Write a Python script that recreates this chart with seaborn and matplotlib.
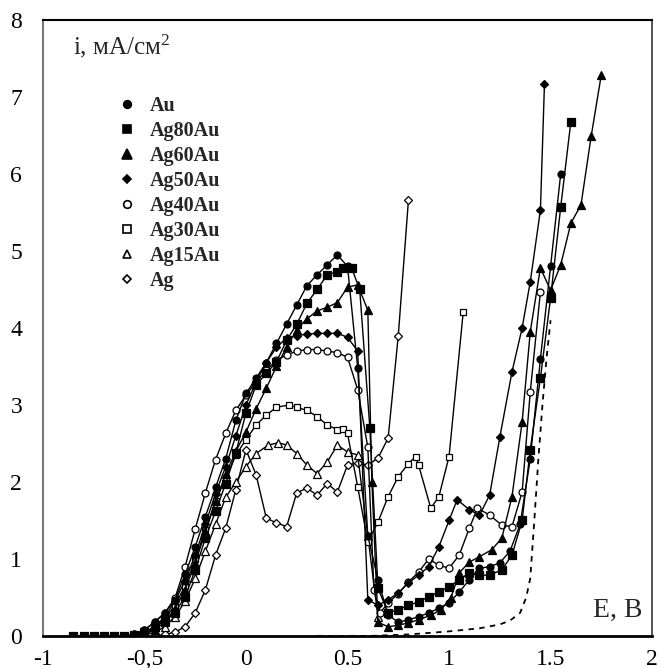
import matplotlib
matplotlib.use('Agg')
from matplotlib import pyplot as plt
from matplotlib.lines import Line2D
import seaborn as sns

# данные (E, В ; i, мА/см2)
au_x = [-0.85, -0.8, -0.75, -0.7, -0.65, -0.6, -0.55, -0.5, -0.45, -0.4, -0.35, -0.3, -0.25, -0.2, -0.15,
        -0.1, -0.05, 0.0, 0.05, 0.1, 0.15, 0.2, 0.25, 0.3, 0.35, 0.4, 0.45, 0.5, 0.55, 0.6, 0.65, 0.7,
        0.75, 0.8, 0.85, 0.9, 0.95, 1.0, 1.05, 1.1, 1.15, 1.2, 1.25, 1.3, 1.35, 1.4, 1.45, 1.5, 1.55]
au_y = [0, 0, 0, 0, 0, 0, 0.02, 0.08, 0.18, 0.3, 0.47, 0.8, 1.16, 1.55, 1.93,
        2.3, 2.8, 3.15, 3.35, 3.55, 3.8, 4.05, 4.3, 4.55, 4.69, 4.82, 4.95, 4.8, 3.48, 1.3, 0.73, 0.27,
        0.18, 0.21, 0.25, 0.3, 0.36, 0.43, 0.57, 0.73, 0.88, 0.9, 0.95, 1.1, 1.45, 2.3, 3.6, 4.8, 6.0]

ag80_x = [-0.85, -0.8, -0.75, -0.7, -0.65, -0.6, -0.55, -0.5, -0.45, -0.4, -0.35, -0.3, -0.25, -0.2, -0.15,
          -0.1, -0.05, 0.0, 0.05, 0.1, 0.15, 0.2, 0.25, 0.3, 0.35, 0.4, 0.45, 0.48, 0.52, 0.56, 0.61, 0.65,
          0.7, 0.75, 0.8, 0.85, 0.9, 0.95, 1.0, 1.05, 1.1, 1.15, 1.2, 1.26, 1.31, 1.36, 1.4, 1.45, 1.5, 1.55, 1.6]
ag80_y = [0, 0, 0, 0, 0, 0, 0.01, 0.05, 0.12, 0.2, 0.3, 0.51, 0.86, 1.27, 1.62,
          1.98, 2.38, 2.9, 3.26, 3.41, 3.56, 3.84, 4.05, 4.32, 4.5, 4.69, 4.73, 4.78, 4.78, 4.5, 2.7, 0.62,
          0.3, 0.34, 0.4, 0.44, 0.51, 0.57, 0.64, 0.73, 0.82, 0.79, 0.79, 0.86, 1.05, 1.5, 2.42, 3.35, 4.39, 5.57, 6.68]

ag60_x = [-0.85, -0.8, -0.75, -0.7, -0.65, -0.6, -0.55, -0.5, -0.45, -0.4, -0.35, -0.3, -0.25, -0.2, -0.15,
          -0.1, -0.05, 0.0, 0.05, 0.1, 0.15, 0.2, 0.25, 0.3, 0.35, 0.4, 0.45, 0.5, 0.55, 0.6, 0.62, 0.65,
          0.7, 0.75, 0.8, 0.85, 0.91, 0.96, 1.01, 1.05, 1.1, 1.15, 1.21, 1.26, 1.31, 1.36, 1.4, 1.45, 1.5,
          1.55, 1.6, 1.65, 1.7, 1.75]
ag60_y = [0, 0, 0, 0, 0, 0, 0, 0.02, 0.08, 0.18, 0.35, 0.6, 0.95, 1.35, 1.75,
          2.1, 2.4, 2.65, 2.95, 3.22, 3.5, 3.75, 3.98, 4.12, 4.22, 4.27, 4.33, 4.53, 4.56, 4.23, 2.0, 0.18,
          0.12, 0.14, 0.17, 0.21, 0.27, 0.34, 0.5, 0.82, 0.96, 1.03, 1.12, 1.27, 1.81, 2.78, 3.95, 4.78, 4.49,
          4.82, 5.36, 5.6, 6.49, 7.29]

ag50_x = [-0.85, -0.8, -0.75, -0.7, -0.65, -0.6, -0.55, -0.5, -0.45, -0.4, -0.35, -0.3, -0.25, -0.2, -0.15,
          -0.1, -0.05, 0.0, 0.05, 0.1, 0.15, 0.2, 0.25, 0.3, 0.35, 0.4, 0.45, 0.5, 0.55, 0.6, 0.65, 0.7,
          0.75, 0.8, 0.85, 0.9, 0.95, 1.0, 1.04, 1.1, 1.15, 1.2, 1.25, 1.31, 1.36, 1.4, 1.45, 1.47]
ag50_y = [0, 0, 0, 0, 0, 0, 0.01, 0.04, 0.12, 0.25, 0.45, 0.72, 1.05, 1.45, 1.85,
          2.2, 2.6, 3.0, 3.3, 3.55, 3.75, 3.87, 3.9, 3.92, 3.93, 3.93, 3.93, 3.88, 3.7, 0.47, 0.4, 0.47,
          0.56, 0.69, 0.79, 0.9, 1.16, 1.5, 1.77, 1.64, 1.57, 1.83, 2.58, 3.43, 4.0, 4.6, 5.53, 7.17]

ag40_x = [-0.85, -0.8, -0.75, -0.7, -0.65, -0.6, -0.55, -0.5, -0.45, -0.4, -0.35, -0.3, -0.25, -0.2, -0.15,
          -0.1, -0.05, 0.0, 0.05, 0.1, 0.15, 0.2, 0.25, 0.3, 0.35, 0.4, 0.45, 0.5, 0.55, 0.6, 0.63, 0.66,
          0.7, 0.75, 0.8, 0.85, 0.9, 0.95, 1.0, 1.05, 1.1, 1.14, 1.2, 1.26, 1.31, 1.36, 1.4, 1.45]
ag40_y = [0, 0, 0, 0, 0, 0, 0.02, 0.08, 0.18, 0.3, 0.49, 0.9, 1.39, 1.86, 2.29,
          2.63, 2.93, 3.13, 3.3, 3.45, 3.58, 3.65, 3.7, 3.72, 3.72, 3.7, 3.68, 3.62, 3.2, 2.45, 0.6, 0.3,
          0.43, 0.55, 0.7, 0.83, 1.0, 0.92, 0.88, 1.05, 1.4, 1.66, 1.57, 1.44, 1.42, 1.87, 3.17, 4.47]

ag30_x = [-0.85, -0.8, -0.75, -0.7, -0.65, -0.6, -0.55, -0.5, -0.45, -0.4, -0.35, -0.3, -0.25, -0.2, -0.15,
          -0.1, -0.05, 0.0, 0.05, 0.1, 0.15, 0.21, 0.25, 0.3, 0.35, 0.4, 0.45, 0.48, 0.5, 0.55, 0.6, 0.65,
          0.7, 0.75, 0.8, 0.835, 0.85, 0.91, 0.95, 1.0, 1.07]
ag30_y = [0, 0, 0, 0, 0, 0, 0, 0.03, 0.1, 0.22, 0.4, 0.65, 1.0, 1.38, 1.75,
          2.05, 2.35, 2.55, 2.74, 2.87, 2.97, 3.0, 2.97, 2.93, 2.85, 2.74, 2.68, 2.69, 2.63, 1.94, 1.22, 1.48,
          1.81, 2.07, 2.24, 2.33, 2.22, 1.66, 1.81, 2.33, 4.21]

ag15_x = [-0.85, -0.8, -0.75, -0.7, -0.65, -0.6, -0.55, -0.5, -0.45, -0.4, -0.35, -0.3, -0.25, -0.2, -0.15,
          -0.1, -0.05, 0.0, 0.05, 0.11, 0.16, 0.2, 0.25, 0.3, 0.35, 0.4, 0.45, 0.5, 0.55, 0.6, 0.65]
ag15_y = [0, 0, 0, 0, 0, 0, 0, 0.01, 0.05, 0.12, 0.25, 0.45, 0.75, 1.1, 1.45,
          1.8, 2.0, 2.2, 2.37, 2.48, 2.51, 2.48, 2.37, 2.22, 2.11, 2.26, 2.48, 2.39, 2.35, 1.3, 0.25]

ag_x = [-0.85, -0.8, -0.75, -0.7, -0.65, -0.6, -0.55, -0.5, -0.45, -0.4, -0.35, -0.3, -0.25, -0.2, -0.15,
        -0.1, -0.05, 0.0, 0.05, 0.1, 0.15, 0.2, 0.25, 0.3, 0.35, 0.4, 0.45, 0.5, 0.55, 0.6, 0.65, 0.7,
        0.75, 0.8]
ag_y = [0, 0, 0, 0, 0, 0, 0, 0, 0.0, 0.02, 0.05, 0.12, 0.3, 0.6, 1.05,
        1.4, 1.9, 2.42, 2.09, 1.53, 1.47, 1.42, 1.86, 1.92, 1.83, 1.98, 1.87, 2.22, 2.25, 2.22, 2.31, 2.57,
        3.9, 5.66]

# пунктирная кривая (фон)
bg_x = [0.35, 0.6, 0.8, 1.0, 1.15, 1.25, 1.3, 1.35, 1.38, 1.4, 1.42, 1.44, 1.46, 1.48, 1.5]
bg_y = [0.0, 0.0, 0.02, 0.06, 0.1, 0.15, 0.2, 0.3, 0.5, 0.75, 1.5, 2.3, 3.0, 3.6, 4.1]

labels = ['Au', 'Ag80Au', 'Ag60Au', 'Ag50Au', 'Ag40Au', 'Ag30Au', 'Ag15Au', 'Ag']
series = [(au_x, au_y), (ag80_x, ag80_y), (ag60_x, ag60_y), (ag50_x, ag50_y),
          (ag40_x, ag40_y), (ag30_x, ag30_y), (ag15_x, ag15_y), (ag_x, ag_y)]
markers = ['o', 's', '^', 'D', 'o', 's', '^', 'D']
msizes = [5, 5.5, 6, 3.8, 5, 5, 5.5, 3.8]
faces = ['black', 'black', 'black', 'black', 'white', 'white', 'white', 'white']

sns.set_theme(style='white')
plt.rcParams['font.family'] = ['Liberation Serif', 'DejaVu Serif']
plt.rcParams['mathtext.fontset'] = 'custom'
plt.rcParams['mathtext.rm'] = 'Liberation Serif'
plt.rcParams['mathtext.it'] = 'Liberation Serif:italic'

fig = plt.figure(figsize=(6.58, 6.68), dpi=100)
ax = fig.add_axes([0.0653, 0.0479, 0.9257, 0.9222])

sns.lineplot(x=bg_x, y=bg_y, ax=ax, color='black', lw=1.3, dashes=False, sort=False,
             estimator=None, linestyle=(0, (3, 3)))

# рисуем в обратном порядке, чтобы закрашенные маркеры были сверху
for i in reversed(range(len(series))):
    xs, ys = series[i]
    sns.lineplot(x=xs, y=ys, ax=ax, color='black', lw=1.0, sort=False, estimator=None,
                 marker=markers[i], markersize=msizes[i], markerfacecolor=faces[i],
                 markeredgecolor='black', markeredgewidth=0.9)

ax.set_xlim(-1, 2)
ax.set_ylim(0, 8)
ax.set_xticks([-1, -0.5, 0, 0.5, 1, 1.5, 2])
ax.set_xticklabels(['-1', '-0,5', '0', '0.5', '1', '1.5', '2'])
ax.set_yticks(range(0, 9))
ax.tick_params(axis='both', direction='out', length=5, width=1, labelsize=17, colors='black')
ax.tick_params(axis='y', pad=10)
ax.tick_params(axis='x', pad=4)
ax.set_xlabel('')
ax.set_ylabel('')

for side in ['top', 'right', 'bottom', 'left']:
    ax.spines[side].set_visible(True)
ax.spines['left'].set_color('#777777')
ax.spines['left'].set_linewidth(1.5)
ax.spines['bottom'].set_color('black')
ax.spines['bottom'].set_linewidth(2)
ax.spines['top'].set_color('black')
ax.spines['top'].set_linewidth(1.5)
ax.spines['right'].set_color('#333333')
ax.spines['right'].set_linewidth(1.2)

ax.text(0.05, 0.958, 'i, мА/см$^{2}$', transform=ax.transAxes, fontsize=18, va='center', ha='left')
ax.text(0.985, 0.042, 'E, В', transform=ax.transAxes, fontsize=20, va='center', ha='right')

handles = [Line2D([], [], linestyle='none', marker=markers[i], markersize=msizes[i] + 0.5,
                  markerfacecolor=faces[i], markeredgecolor='black', markeredgewidth=1.2)
           for i in range(len(labels))]
leg = ax.legend(handles, labels, loc='upper left', bbox_to_anchor=(0.092, 0.906), frameon=False,
                handlelength=1.0, handletextpad=0.6, labelspacing=0.25,
                prop={'weight': 'bold', 'size': 14.5})

fig.savefig('out.png', dpi=100)
